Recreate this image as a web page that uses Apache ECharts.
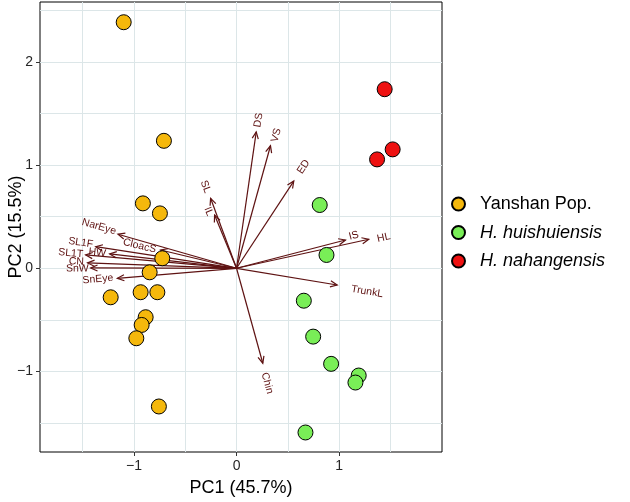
<!DOCTYPE html>
<html><head><meta charset="utf-8">
<script src="https://cdn.jsdelivr.net/npm/echarts@6/dist/echarts.min.js"></script>
<style>html,body{margin:0;padding:0;background:#fff}#c{width:630px;height:502px}</style>
</head><body><div id="c"></div>
<script>
// ---- data ----
const yanshan = [[-1.100,2.384],[-0.708,1.235],[-0.913,0.629],[-0.747,0.532],[-0.724,0.097],[-0.847,-0.039],[-1.227,-0.281],[-0.935,-0.232],[-0.772,-0.232],[-0.886,-0.474],[-0.925,-0.549],[-0.977,-0.678],[-0.757,-1.339]];
const huishui = [[0.811,0.613],[0.877,0.129],[0.656,-0.314],[0.747,-0.662],[0.922,-0.926],[1.191,-1.039],[1.159,-1.107],[0.672,-1.591]];
const nahang = [[1.444,1.735],[1.522,1.152],[1.370,1.055]];
const varNames = ['DS','VS','ED','SL','IL','IS','HL','TrunkL','Chin','NarEye','SL1F','CloacS','SL1T','HW','CN','SnW','SnEye'];
const varX = [0.192,0.331,0.558,-0.253,-0.214,1.062,1.289,0.981,0.256,-1.156,-1.373,-0.740,-1.471,-1.237,-1.452,-1.422,-1.162];
const varY = [1.322,1.187,0.845,0.678,0.516,0.274,0.281,-0.162,-0.920,0.330,0.209,0.177,0.129,0.139,0.052,0.003,-0.097];
const labelX = [0.214,0.387,0.653,-0.302,-0.273,1.143,1.435,1.273,0.299,-1.341,-1.519,-0.945,-1.617,-1.357,-1.561,-1.552,-1.351];
const labelY = [1.436,1.290,0.983,0.790,0.550,0.316,0.296,-0.226,-1.113,0.403,0.248,0.216,0.145,0.151,0.064,-0.004,-0.106];
const xMajor = [-1,0,1];
const xGrid = [-1.5,-1,-0.5,0,0.5,1,1.5];
const yMajor = [-1,0,1,2];
const yGrid = [-1.5,-1,-0.5,0,0.5,1,1.5,2,2.5];
const xMin = -1.916, xMax = 2.003, yMin = -1.780, yMax = 2.580;

// ---- chart ----
const ARROW = '#5e1212';
const FONT = '"Liberation Sans", Arial, sans-serif';
const fmt = v => (v < 0 ? '\u2212' + Math.abs(v) : String(v));
const chart = echarts.init(document.getElementById('c'), null, {renderer: 'canvas'});

function renderArrow(params, api) {
  const i = params.dataIndex;
  const o = api.coord([0, 0]);
  const t = api.coord([api.value(0), api.value(1)]);
  const l = api.coord([labelX[i], labelY[i]]);
  const dx = t[0] - o[0], dy = t[1] - o[1];
  const ang = Math.atan2(dy, dx);
  const ah = 7.5, aw = 0.42;
  const p1 = [t[0] - ah * Math.cos(ang - aw), t[1] - ah * Math.sin(ang - aw)];
  const p2 = [t[0] - ah * Math.cos(ang + aw), t[1] - ah * Math.sin(ang + aw)];
  let rot = -ang;
  if (dx < 0) rot += Math.PI;
  return {
    type: 'group',
    children: [
      {type: 'line', shape: {x1: o[0], y1: o[1], x2: t[0], y2: t[1]}, style: {stroke: ARROW, lineWidth: 1.2}},
      {type: 'polyline', shape: {points: [p1, t, p2]}, style: {stroke: ARROW, fill: null, lineWidth: 1.2}},
      {type: 'text', x: l[0], y: l[1], rotation: rot,
        style: {text: varNames[i], fill: ARROW, fontSize: 10.5, fontFamily: FONT, align: 'center', verticalAlign: 'middle'}}
    ]
  };
}

const pointStyle = c => ({color: c, borderColor: '#000', borderWidth: 1, opacity: 1});

chart.setOption({
  animation: false,
  backgroundColor: '#fff',
  grid: {left: 40, right: 188, top: 2, bottom: 50, show: true, borderColor: '#000', borderWidth: 1,
    backgroundColor: '#fff', containLabel: false, outerBoundsMode: 'none'},
  legend: {
    orient: 'vertical', left: 446, top: 190, padding: 5, itemGap: 10.5, itemWidth: 13, itemHeight: 13, icon: 'circle',
    data: ['Yanshan Pop.', 'H. huishuiensis', 'H. nahangensis'],
    formatter: n => n.indexOf('H.') === 0 ? '{i|' + n + '}' : '{n|' + n + '}',
    textStyle: {
      fontSize: 18, color: '#000', fontFamily: FONT,
      rich: {
        i: {fontSize: 18, fontStyle: 'italic', color: '#000', fontFamily: FONT, lineHeight: 17, padding: [0, 0, 0, 10]},
        n: {fontSize: 18, color: '#000', fontFamily: FONT, lineHeight: 17, padding: [0, 0, 0, 10]}
      }
    }
  },
  xAxis: [
    {type: 'value', position: 'top', min: xMin, max: xMax,
      axisLine: {show: false, onZero: false}, axisTick: {show: false, customValues: xGrid}, axisLabel: {show: false},
      splitLine: {show: true, lineStyle: {color: '#dce6e8', width: 1}}},
    {type: 'value', position: 'bottom', min: xMin, max: xMax,
      axisLine: {show: false, onZero: false},
      axisTick: {show: true, customValues: xMajor, length: 4, lineStyle: {color: '#333', width: 1}},
      axisLabel: {customValues: xMajor, formatter: fmt, fontSize: 14, color: '#262626', fontFamily: FONT, margin: 7},
      splitLine: {show: false},
      name: 'PC1 (45.7%)', nameLocation: 'middle', nameGap: 27, nameMoveOverlap: false,
      nameTextStyle: {fontSize: 18, color: '#000', fontFamily: FONT}}
  ],
  yAxis: [
    {type: 'value', position: 'right', min: yMin, max: yMax,
      axisLine: {show: false, onZero: false}, axisTick: {show: false, customValues: yGrid}, axisLabel: {show: false},
      splitLine: {show: true, lineStyle: {color: '#dce6e8', width: 1}}},
    {type: 'value', position: 'left', min: yMin, max: yMax,
      axisLine: {show: false, onZero: false},
      axisTick: {show: true, customValues: yMajor, length: 4, lineStyle: {color: '#333', width: 1}},
      axisLabel: {customValues: yMajor, formatter: fmt, fontSize: 14, color: '#262626', fontFamily: FONT, margin: 7},
      splitLine: {show: false},
      name: 'PC2 (15.5%)', nameLocation: 'middle', nameGap: 15, nameRotate: 90, nameMoveOverlap: false,
      nameTextStyle: {fontSize: 18, color: '#000', fontFamily: FONT}}
  ],
  series: [
    {type: 'custom', name: 'loadings', xAxisIndex: 1, yAxisIndex: 1, z: 2, silent: true,
      renderItem: renderArrow, encode: {x: 0, y: 1},
      data: varX.map((x, i) => [x, varY[i]])},
    {type: 'scatter', name: 'Yanshan Pop.', xAxisIndex: 1, yAxisIndex: 1, z: 3, symbolSize: 15,
      itemStyle: pointStyle('#f5b80c'), data: yanshan},
    {type: 'scatter', name: 'H. huishuiensis', xAxisIndex: 1, yAxisIndex: 1, z: 3, symbolSize: 15,
      itemStyle: pointStyle('#79ee57'), data: huishui},
    {type: 'scatter', name: 'H. nahangensis', xAxisIndex: 1, yAxisIndex: 1, z: 3, symbolSize: 15,
      itemStyle: pointStyle('#ee1111'), data: nahang}
  ]
});
</script></body></html>
